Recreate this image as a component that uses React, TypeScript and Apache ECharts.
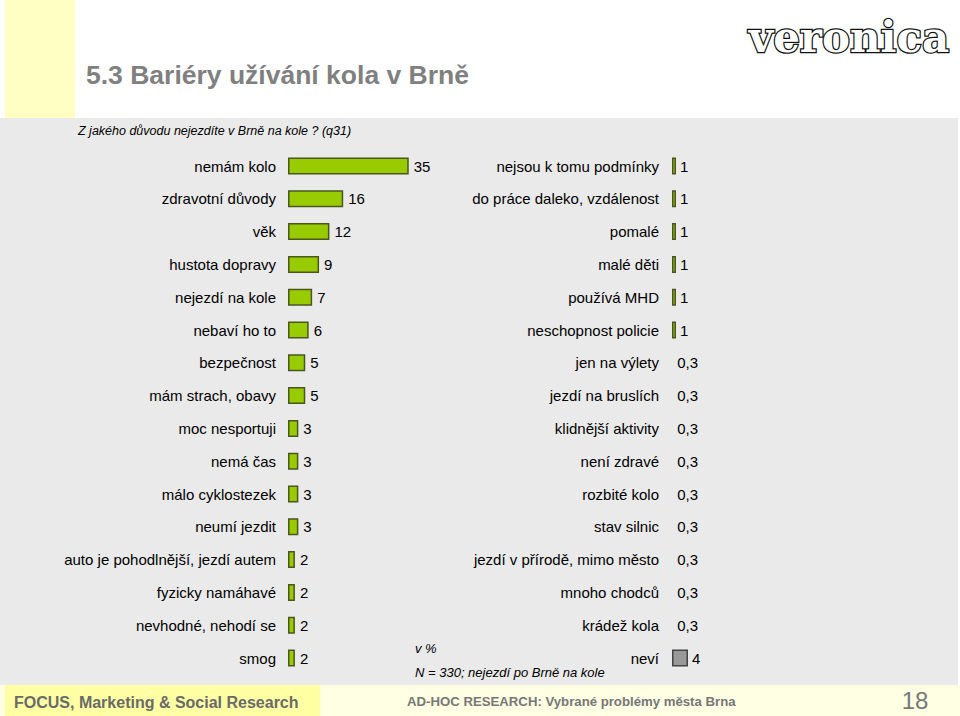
import React, { useEffect, useRef } from "react";
import * as echarts from "echarts";

const leftCategories = [
  "nemám kolo",
  "zdravotní důvody",
  "věk",
  "hustota dopravy",
  "nejezdí na kole",
  "nebaví ho to",
  "bezpečnost",
  "mám strach, obavy",
  "moc nesportuji",
  "nemá čas",
  "málo cyklostezek",
  "neumí jezdit",
  "auto je pohodlnější, jezdí autem",
  "fyzicky namáhavé",
  "nevhodné, nehodí se",
  "smog",
];
const leftValues = [35, 16, 12, 9, 7, 6, 5, 5, 3, 3, 3, 3, 2, 2, 2, 2];

const rightCategories = [
  "nejsou k tomu podmínky",
  "do práce daleko, vzdálenost",
  "pomalé",
  "malé děti",
  "používá MHD",
  "neschopnost policie",
  "jen na výlety",
  "jezdí na bruslích",
  "klidnější aktivity",
  "není zdravé",
  "rozbité kolo",
  "stav silnic",
  "jezdí v přírodě, mimo město",
  "mnoho chodců",
  "krádež kola",
  "neví",
];
const rightValues = [1, 1, 1, 1, 1, 1, 0.3, 0.3, 0.3, 0.3, 0.3, 0.3, 0.3, 0.3, 0.3, 4];

const FONT = "'Liberation Sans', Arial, sans-serif";
const GREEN = "#99cc00";
const BORDER = "#4a5520";

export default function App() {
  const ref = useRef<HTMLDivElement>(null);
  useEffect(() => {
    if (!ref.current) return;
    const chart = echarts.init(ref.current, null, { renderer: "svg" });
    const fmt = (p: any) => String(p.value).replace(".", ",");
    const top = 149.6;
    const height = 524.8;
    chart.setOption({
      animation: false,
      textStyle: { fontFamily: FONT },
      graphic: [
        { type: "rect", z: -10, shape: { x: 0, y: 0, width: 960, height: 716 }, style: { fill: "#ffffff" } },
        { type: "rect", z: -9, shape: { x: 5, y: 0, width: 70, height: 118 }, style: { fill: "#ffffc4" } },
        { type: "rect", z: -9, shape: { x: 0, y: 118, width: 958, height: 567 }, style: { fill: "#eaeaea" } },
        { type: "rect", z: -9, shape: { x: 0, y: 685, width: 960, height: 31 }, style: { fill: "#ffffe4" } },
        { type: "rect", z: -8, shape: { x: 5, y: 685, width: 315, height: 31 }, style: { fill: "#ffffa4" } },
        {
          type: "text", x: 86, y: 75,
          style: { text: "5.3 Bariéry užívání kola v Brně", font: `bold 26.5px ${FONT}`, fill: "#808080", textVerticalAlign: "middle" },
        },
        {
          type: "text", x: 849, y: 37,
          style: {
            text: "veronica", font: `bold 42px 'DejaVu Serif', serif`, fill: "#ffffff", stroke: "#111111", lineWidth: 2.5,
            textAlign: "center", textVerticalAlign: "middle",
          },
        },
        {
          type: "text", x: 78, y: 131,
          style: { text: "Z jakého důvodu nejezdíte v Brně na kole ? (q31)", font: `italic 12.5px ${FONT}`, fill: "#000", textVerticalAlign: "middle" },
        },
        {
          type: "text", x: 415, y: 648,
          style: { text: "v %", font: `italic 13px ${FONT}`, fill: "#000", textVerticalAlign: "middle" },
        },
        {
          type: "text", x: 415, y: 672,
          style: { text: "N = 330; nejezdí po Brně na kole", font: `italic 13px ${FONT}`, fill: "#000", textVerticalAlign: "middle" },
        },
        {
          type: "text", x: 14, y: 702,
          style: { text: "FOCUS, Marketing & Social Research", font: `bold 16px ${FONT}`, fill: "#6a6a6a", textVerticalAlign: "middle" },
        },
        {
          type: "text", x: 407, y: 701,
          style: { text: "AD-HOC RESEARCH: Vybrané problémy města Brna", font: `bold 13.2px ${FONT}`, fill: "#777777", textVerticalAlign: "middle" },
        },
        {
          type: "text", x: 915, y: 700,
          style: { text: "18", font: `24px ${FONT}`, fill: "#777777", textAlign: "center", textVerticalAlign: "middle" },
        },
      ],
      grid: [
        { left: 288, top, width: 138, height },
        { left: 672, top, width: 40, height },
      ],
      xAxis: [
        { gridIndex: 0, type: "value", min: 0, max: 40, show: false },
        { gridIndex: 1, type: "value", min: 0, max: 10, show: false },
      ],
      yAxis: [
        {
          gridIndex: 0, type: "category", inverse: true, data: leftCategories,
          axisLine: { show: false }, axisTick: { show: false },
          axisLabel: { margin: 12, color: "#000", fontSize: 15, fontFamily: FONT },
        },
        {
          gridIndex: 1, type: "category", inverse: true, data: rightCategories,
          axisLine: { show: false }, axisTick: { show: false },
          axisLabel: { margin: 13, color: "#000", fontSize: 15, fontFamily: FONT },
        },
      ],
      series: [
        {
          type: "bar", xAxisIndex: 0, yAxisIndex: 0, barWidth: 17,
          data: leftValues,
          itemStyle: { color: GREEN, borderColor: BORDER, borderWidth: 1.5 },
          label: { show: true, position: "right", distance: 5, color: "#000", fontSize: 15, fontFamily: FONT, formatter: fmt },
        },
        {
          type: "bar", xAxisIndex: 1, yAxisIndex: 1, barWidth: 17,
          data: rightValues.map((v, i) => ({
            value: v,
            itemStyle: i === rightValues.length - 1
              ? { color: "#999999", borderColor: "#444444", borderWidth: 1.5 }
              : v < 0.5
                ? { color: "rgba(0,0,0,0)", borderWidth: 0 }
                : { color: GREEN, borderColor: BORDER, borderWidth: 1.5 },
          })),
          label: { show: true, position: "right", distance: 4, color: "#000", fontSize: 15, fontFamily: FONT, formatter: fmt },
        },
      ],
    });
    return () => chart.dispose();
  }, []);
  return <div ref={ref} style={{ position: "absolute", left: 0, top: 0, width: 960, height: 716 }} />;
}
